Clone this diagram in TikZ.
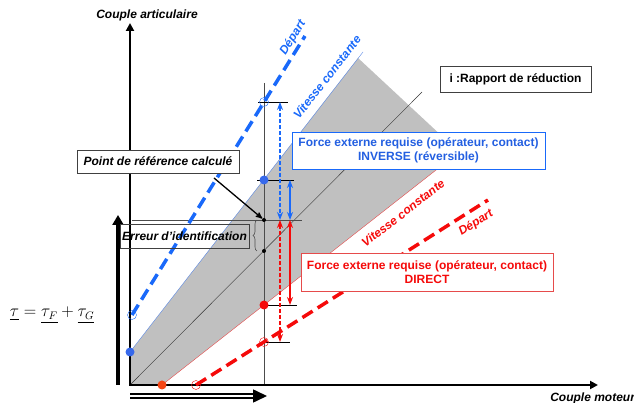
\documentclass[tikz,border=0pt]{standalone}
\usepackage{amsmath}
\usepackage{fontspec}
\setmainfont{Liberation Sans}
\usepackage{tikz}
\usetikzlibrary{arrows,arrows.meta}
\usetikzlibrary{decorations.pathreplacing}
\definecolor{line_blue}{RGB}{25,105,250}
\definecolor{text_blue}{RGB}{35,95,225}
\definecolor{thin_blue}{RGB}{95,140,230}
\definecolor{dot_blue}{RGB}{55,105,235}
\definecolor{line_red}{RGB}{245,10,10}
\definecolor{thin_red}{RGB}{230,75,75}
\definecolor{dot_orange}{RGB}{245,70,20}
\definecolor{band_gray}{RGB}{192,192,192}

\begin{document}
\begin{tikzpicture}[x=1pt,y=1pt,semithick,>=stealth']
    \tikzstyle{txt}=[font=\fontsize{12}{13}\selectfont\bfseries\itshape, inner sep=0pt]
    \tikzstyle{box}=[draw=black!75, fill=white, font=\fontsize{12}{14}\selectfont\bfseries, align=center, inner sep=0pt]
    \tikzstyle{itbox}=[style=box, font=\fontsize{12}{14}\selectfont\bfseries\itshape]
    \tikzstyle{fdot}=[circle, inner sep=0pt, minimum size=9pt]
    \tikzstyle{odot}=[circle, draw, thin, inner sep=0pt, minimum size=9pt, fill=none]
    \tikzstyle{kdot}=[circle, fill=black, inner sep=0pt, minimum size=4pt]
    \tikzstyle{tick}=[thin, black]
    \tikzstyle{dep}=[line width=3.5pt, dash pattern=on 12pt off 6pt]
    \tikzstyle{force}=[{Stealth[length=8pt,width=6pt]}-{Stealth[length=8pt,width=6pt]}, line width=1.3pt]
    \tikzstyle{fdash}=[dash pattern=on 4pt off 2pt]
    \tikzstyle{axis}=[line width=2pt]

    \useasboundingbox (0,0) rectangle (634,403);

    \coordinate (O)    at (130,18);
    \coordinate (ytop) at (130,380);
    \coordinate (xend) at (598,18);
    \coordinate (b0)   at (130,51);
    \coordinate (b1)   at (363,351);
    \coordinate (g1)   at (358,345);
    \coordinate (g2)   at (459,251);
    \coordinate (r0)   at (162,18);
    \coordinate (k1)   at (422,311);
    \coordinate (vtop) at (264,320);
    \coordinate (vbot) at (264,18);
    \coordinate (bd0)  at (132,88);
    \coordinate (bd1)  at (305,367);
    \coordinate (rd0)  at (196,18);
    \coordinate (rd1)  at (488,203);
    \coordinate (lb)   at (118,18);
    \coordinate (lt)   at (118,188);
    \coordinate (hb0)  at (130,7);
    \coordinate (hb1)  at (267,7);
    \coordinate (pr)   at (214,225);
    \coordinate (br0)  at (257,152);
    \coordinate (br1)  at (257,183);

    \coordinate (t1a) at (258,301);  \coordinate (t1b) at (288,301);
    \coordinate (t2a) at (257,223);  \coordinate (t2b) at (294,223);
    \coordinate (t3a) at (132,183);  \coordinate (t3b) at (302,183);
    \coordinate (t4a) at (264,98);   \coordinate (t4b) at (297,98);
    \coordinate (t5a) at (264,61);   \coordinate (t5b) at (290,61);

    \coordinate (f1a) at (280,301);  \coordinate (f1b) at (280,183);
    \coordinate (f2a) at (290,223);  \coordinate (f2b) at (290,183);
    \coordinate (f3a) at (280,183);  \coordinate (f3b) at (280,61);
    \coordinate (f4a) at (290,183);  \coordinate (f4b) at (290,98);

    \fill[band_gray] (O) -- (b0) -- (g1) -- (g2) -- (r0) -- cycle;

    \draw[thin, black!80] (O) -- (k1);
    \draw[thin, thin_blue] (b0) -- (b1);
    \draw[thin, thin_red] (r0) -- (g2);
    \draw[thin, black!70] (vtop) -- (vbot);
    \draw[tick, black!70] (t3a) -- (t3b);
    \draw[tick] (t1a) -- (t1b);
    \draw[tick] (t2a) -- (t2b);
    \draw[tick] (t4a) -- (t4b);
    \draw[tick] (t5a) -- (t5b);

    \draw[axis, {Triangle[length=8pt,width=8pt]}-{Triangle[length=8pt,width=8pt]}] (ytop) -- (O) -- (xend);
    \draw[line width=4pt, -{Triangle[length=10pt,width=11pt]}] (lb) -- (lt);
    \draw[double, double distance=2.5pt, line width=1.6pt, -{Triangle[length=14pt,width=13pt]}] (hb0) -- (hb1);

    \draw[dep, line_blue] (bd0) -- (bd1);
    \draw[dep, line_red] (rd0) -- (rd1);

    \draw[force, line_blue, fdash] (f1a) -- (f1b);
    \draw[force, line_blue] (f2a) -- (f2b);
    \draw[force, line_red, fdash] (f3a) -- (f3b);
    \draw[force, line_red] (f4a) -- (f4b);

    \node[odot, draw=line_blue] (bo1) at (bd0) {};
    \node[odot, draw=line_blue] (bo2) at (264,301) {};
    \node[fdot, fill=dot_blue] (bf1) at (b0) {};
    \node[fdot, fill=dot_blue] (bf2) at (264,223) {};
    \node[kdot] (kd1) at (264,183) {};
    \node[kdot] (kd2) at (264,152) {};
    \node[fdot, fill=dot_orange] (rf1) at (r0) {};
    \node[fdot, fill=line_red] (rf2) at (264,98) {};
    \node[odot, draw=line_red] (ro1) at (rd0) {};
    \node[odot, draw=line_red] (ro2) at (264,61) {};

    \node[txt] (ya) at (147,388) {Couple articulaire};
    \node[txt, anchor=west] (xa) at (550,5) {Couple moteur};
    \node[txt, text=line_blue, rotate=58] (bdep) at (293,365) {Départ};
    \node[txt, text=line_blue, rotate=52] (bvit) at (327,326) {Vitesse constante};
    \node[txt, text=line_red, rotate=38] (rvit) at (403,190) {Vitesse constante};
    \node[txt, text=line_red, rotate=32] (rdep) at (476,180) {Départ};

    \node[box, minimum width=151pt, minimum height=26pt] (rap) at (515.5,324) {i :Rapport de réduction};
    \node[box, draw=line_blue, text=text_blue, minimum width=253pt, minimum height=37pt] (inv) at (418.5,252.5)
        {Force externe requise (opérateur, contact)\\INVERSE (réversible)};
    \node[box, draw=thin_red, text=line_red, minimum width=252pt, minimum height=38pt] (dir) at (427,131)
        {Force externe requise (opérateur, contact)\\DIRECT};
    \node[itbox, minimum width=162pt, minimum height=23pt] (ref) at (158,241.5) {Point de référence calculé};
    \node[itbox, fill=none, minimum width=129pt, minimum height=24pt] (err) at (184.5,167) {Erreur d’identification};
    \node[inner sep=0pt, font=\fontsize{16}{16}\selectfont] (tau) at (52,88) {$\underline{\tau}=\underline{\tau_F}+\underline{\tau_G}$};

    \draw[black!70, decorate, decoration={brace, amplitude=4pt}] (br0) -- (br1);
    \draw[->, line width=1.3pt] (pr) -- (kd1);
  \end{tikzpicture}
\end{document}
